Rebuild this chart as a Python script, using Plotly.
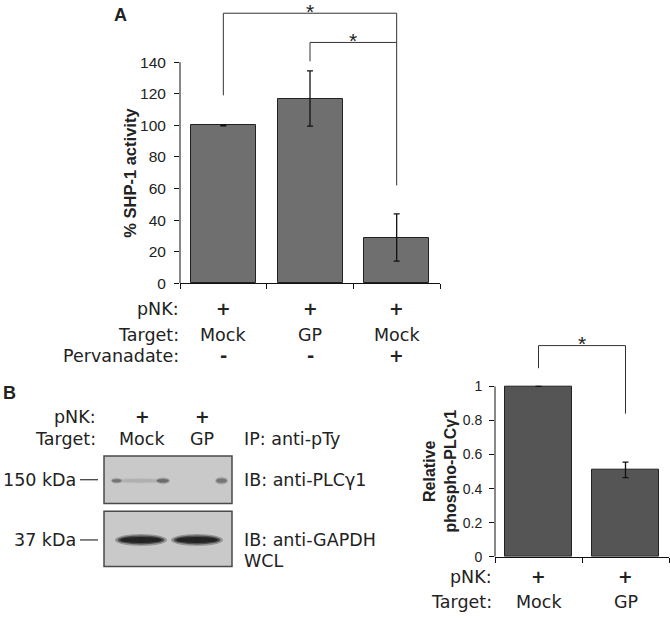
import plotly.graph_objects as go

# panel A: SHP-1 activity
a_x = [0, 1, 2]
shp1_activity = [100, 117, 29]
shp1_err = [0.3, 17.5, 15]
a_ticks = [0, 20, 40, 60, 80, 100, 120, 140]
a_rows = ["pNK:", "Target:", "Pervanadate:"]
a_pnk = ["+", "+", "+"]
a_target = ["Mock", "GP", "Mock"]
a_pervanadate = ["-", "-", "+"]
# (left bar, right bar, left foot, top, right foot)
a_sig = [(0, 2, 119, 171, 62), (1, 2, 140.5, 152.5, 152.5)]

# panel B: relative phospho-PLCg1
b_x = [0, 1]
plc_relative = [1.0, 0.51]
plc_err = [0, 0.045]
b_ticks = [0, 0.2, 0.4, 0.6, 0.8, 1]
b_ticktext = ["0", "0.2", "0.4", "0.6", "0.8", "1"]
b_rows = ["pNK:", "Target:"]
b_pnk = ["+", "+"]
b_target = ["Mock", "GP"]
b_sig = [(0, 1, 1.107, 1.24, 0.84)]

# blot labels
blot_lanes = ["Mock", "GP"]
blot_pnk = ["+", "+"]

W, H = 670, 620
ARIAL = "Liberation Sans, Arial"
VERD = "DejaVu Sans, Verdana"
FS = 17.5


def px(x):
    return x / W


def py(y):
    return 1 - y / H


def note(x, y, text, xanchor="center", xref="paper", yref="paper", size=FS, family=VERD, **kw):
    return dict(xref=xref, yref=yref, x=x, y=y, text=text, xanchor=xanchor, yanchor=kw.pop("yanchor", "middle"),
                showarrow=False, font=dict(family=family, size=size, color="#222"), **kw)


fig = go.Figure()
fig.add_trace(go.Bar(
    x=a_x, y=shp1_activity, width=0.75, xaxis="x", yaxis="y",
    marker=dict(color="#6f6f6f", line=dict(color="#222", width=1)),
    error_y=dict(type="data", array=shp1_err, color="#111", thickness=1.3, width=3),
    showlegend=False))
fig.add_trace(go.Bar(
    x=b_x, y=plc_relative, width=0.76, xaxis="x2", yaxis="y2",
    marker=dict(color="#555555", line=dict(color="#222", width=1)),
    error_y=dict(type="data", array=plc_err, color="#111", thickness=1.3, width=3),
    showlegend=False))

axis_common = dict(showgrid=False, zeroline=False, ticks="outside", ticklen=5,
                   tickcolor="#111", linecolor="#111", linewidth=1)

fig.update_layout(
    width=W, height=H, margin=dict(l=0, r=0, t=0, b=0),
    paper_bgcolor="white", plot_bgcolor="white", bargap=0,
    xaxis=dict(domain=[px(180), px(440)], range=[-0.5, 2.5], showline=True,
               tickvals=[-0.5, 0.5, 1.5, 2.5], showticklabels=False, **axis_common),
    yaxis=dict(domain=[py(287), 1], range=[0, 287 / 1.6], showline=False,
               tickvals=a_ticks, ticklabelstandoff=5,
               tickfont=dict(family=ARIAL, size=15.5, color="#222"), **axis_common),
    xaxis2=dict(domain=[px(495), px(669)], range=[-0.5, 1.5], showline=True,
                tickvals=[-0.5, 0.5, 1.5], showticklabels=False, anchor="y2", **axis_common),
    yaxis2=dict(domain=[py(564), py(335)], range=[0, (564 - 335) / 172.5], showline=False,
                tickvals=b_ticks, ticktext=b_ticktext, anchor="x2", ticklabelstandoff=4,
                tickfont=dict(family=ARIAL, size=14, color="#222"), **axis_common),
)

shapes = []
# y axis lines only over the tick span
shapes.append(dict(type="line", xref="paper", yref="y", x0=px(180), x1=px(180), y0=0, y1=a_ticks[-1],
                   line=dict(color="#111", width=1)))
shapes.append(dict(type="line", xref="paper", yref="y2", x0=px(495), x1=px(495), y0=0, y1=b_ticks[-1],
                   line=dict(color="#111", width=1)))

# significance brackets
annotations = []
for xr, yr, sig in (("x", "y", a_sig), ("x2", "y2", b_sig)):
    for l, r, lf, top, rf in sig:
        shapes.append(dict(type="path", xref=xr, yref=yr,
                           path=f"M {l},{lf} L {l},{top} L {r},{top} L {r},{rf}",
                           line=dict(color="#333", width=1)))
        annotations.append(note((l + r) / 2, top, "*", xref=xr, yref=yr, size=21, family=ARIAL,
                                yshift=2))

# axis titles
annotations.append(note(px(130), 70, "<b>% SHP-1 activity</b>", yref="y", family=ARIAL, size=16.5,
                        textangle=-90))
annotations.append(note(px(440), 0.5, "<b>Relative<br>phospho-PLCγ1</b>", yref="y2", family=ARIAL, size=16,
                        textangle=-90))

# panel letters
annotations.append(note(px(120), py(15), "<b>A</b>", family=ARIAL, size=18))
annotations.append(note(px(9), py(398), "<b>B</b>", family=ARIAL, size=18))


def row(label, values, xr, label_x, y, bold=False):
    annotations.append(note(px(label_x), py(y), label, xanchor="right"))
    for i, v in enumerate(values):
        annotations.append(note(i, py(y), f"<b>{v}</b>" if bold else v, xref=xr))


row(a_rows[0], a_pnk, "x", 181, 313, bold=True)
row(a_rows[1], a_target, "x", 181, 339)
row(a_rows[2], a_pervanadate, "x", 181, 361, bold=True)
row(b_rows[0], b_pnk, "x2", 494, 585, bold=True)
row(b_rows[1], b_target, "x2", 494, 610)

# blot header
lane_x = [142, 202]
annotations.append(note(px(98), py(422), "pNK:", xanchor="right"))
annotations.append(note(px(98), py(445), "Target:", xanchor="right"))
for lx, p, lane in zip(lane_x, blot_pnk, blot_lanes):
    annotations.append(note(px(lx), py(422), f"<b>{p}</b>"))
    annotations.append(note(px(lx), py(445), lane))

for txt, y in (("IP: anti-pTy", 445), ("IB: anti-PLCγ1", 486), ("IB: anti-GAPDH", 547), ("WCL", 568)):
    annotations.append(note(px(242), py(y), txt, xanchor="left"))
for txt, y in (("150 kDa", 486), ("37 kDa", 547)):
    annotations.append(note(px(78), py(y), txt, xanchor="right"))
    shapes.append(dict(type="line", xref="paper", yref="paper", x0=px(80), x1=px(98), y0=py(y), y1=py(y),
                       line=dict(color="#333", width=1.2)))

# blot panels
for y0, y1 in ((462, 510), (518, 574)):
    shapes.append(dict(type="rect", xref="paper", yref="paper", x0=px(104), x1=px(232), y0=py(y1), y1=py(y0),
                       fillcolor="#c9c9c9", line=dict(color="#4a4a4a", width=1.5)))


def band(x0, x1, yc, h, color, op):
    for k, o in ((1.0, op * 0.35), (0.75, op * 0.65), (0.5, op)):
        dx = (x1 - x0) * (1 - k) / 5
        shapes.append(dict(type="circle", xref="paper", yref="paper", x0=px(x0 + dx), x1=px(x1 - dx),
                           y0=py(yc + h * k / 2), y1=py(yc - h * k / 2), fillcolor=color, opacity=o,
                           line=dict(width=0)))


# faint phospho-PLCg1 bands
band(110, 170, 487, 6, "#999", 0.3)
band(111, 122, 487, 6, "#555", 0.45)
band(156, 170, 487, 7, "#555", 0.55)
band(215, 228, 487, 8, "#555", 0.5)
# GAPDH bands
band(115, 167, 547, 12, "#1e1e1e", 0.9)
band(171, 223, 547, 12, "#1e1e1e", 0.9)

fig.update_layout(shapes=shapes, annotations=annotations)
fig.write_html("out.html", config={"displayModeBar": False},
               post_script="document.body.style.margin='0px';")
